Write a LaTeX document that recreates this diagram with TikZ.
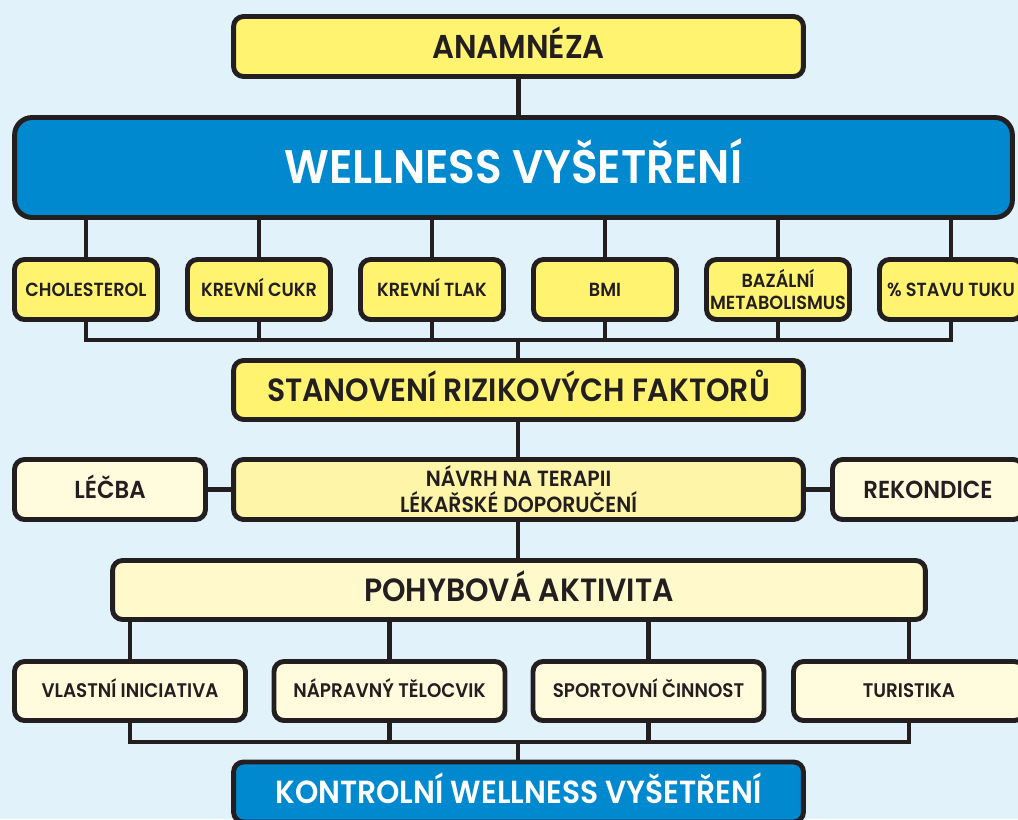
\documentclass[tikz,border=0pt]{standalone}
\usepackage{fontspec}
\setmainfont{Poppins}[FakeStretch=0.93, BoldFont={Poppins SemiBold}]
\definecolor{bg}{HTML}{E1F2FA}
\definecolor{ylw}{HTML}{FFF36F}
\definecolor{blu}{HTML}{0089CF}
\definecolor{crm}{HTML}{FFFBDC}
\definecolor{pal}{HTML}{FFF5A8}
\definecolor{pohc}{HTML}{FFF9CC}
\definecolor{ink}{HTML}{231F20}
\tikzset{
  base/.style={draw=ink, line width=2.8pt, rounded corners=0.2cm, inner sep=0pt, text=ink},
  fs/.style={font=\bfseries\fontsize{#1}{#1}\selectfont, text height=0.70*#1pt, text depth=0pt},
  two/.style 2 args={align=center, font=\bfseries\fontsize{#1}{#2}\selectfont},
  ybox/.style={base, fill=ylw},
  bbox/.style={base, fill=blu, text=white, rounded corners=0.35cm},
  cbox/.style={base, fill=crm},
  wire/.style={draw=ink, line width=2.5pt},
}
\begin{document}
\begin{tikzpicture}[x=0.02cm,y=-0.02cm]
\path[fill=bg] (0,0) rectangle (1018,819);
\useasboundingbox (0,0) rectangle (1018,819);
% top
\node[ybox, minimum width=11.4cm, minimum height=1.2cm, fs=18.8] (ana) at (518.5,46.5) {ANAMNÉZA};
\node[bbox, minimum width=19.96cm, minimum height=2.0cm, fs=26.8] (wel) at (513.5,167.5) {WELLNESS VYŠETŘENÍ};
% row 1
\begin{scope}[every node/.style={ybox, minimum width=2.86cm, minimum height=1.2cm, fs=10.8}]
\node (r1) at (86,289.5) {CHOLESTEROL};
\node (r2) at (259,289.5) {KREVNÍ CUKR};
\node (r3) at (432,289.5) {KREVNÍ TLAK};
\node (r4) at (605,289.5) {BMI};
\node[two={10.8}{12.6}, text height=, text depth=] (r5) at (778,289.5) {BAZÁLNÍ\\METABOLISMUS};
\node (r6) at (951,289.5) {\% STAVU TUKU};
\end{scope}
\node[ybox, minimum width=11.4cm, minimum height=1.18cm, fs=18.3] (stan) at (518.5,390) {STANOVENÍ RIZIKOVÝCH FAKTORŮ};
% row 2
\node[cbox, minimum width=3.82cm, minimum height=1.2cm, fs=14] (lec) at (110,489.5) {LÉČBA};
\node[base, two={12.5}{14.8}, fill=pal, minimum width=11.4cm, minimum height=1.2cm] (nav) at (518.5,489.5) {NÁVRH NA TERAPII\\LÉKAŘSKÉ DOPORUČENÍ};
\node[cbox, minimum width=3.82cm, minimum height=1.2cm, fs=14] (rek) at (928,489.5) {REKONDICE};
\node[base, fill=pohc, minimum width=16.26cm, minimum height=1.18cm, fs=18.3] (poh) at (519,590) {POHYBOVÁ AKTIVITA};
% row 3
\begin{scope}[every node/.style={cbox, minimum width=4.62cm, minimum height=1.18cm, fs=11.2}]
\node (s1) at (130,691) {VLASTNÍ INICIATIVA};
\node (s2) at (389.5,691) {NÁPRAVNÝ TĚLOCVIK};
\node (s3) at (648.5,691) {SPORTOVNÍ ČINNOST};
\node (s4) at (909,691) {TURISTIKA};
\end{scope}
\node[bbox, rounded corners=0.2cm, minimum width=11.4cm, minimum height=1.2cm, fs=18.2] (kon) at (518.5,792) {KONTROLNÍ WELLNESS VYŠETŘENÍ};
% connectors
\coordinate (b1) at (518,340);
\coordinate (b2) at (518,742);
\draw[wire] (ana.south) -- (wel.north -| ana.south);
\foreach \i in {r1,r2,r3,r4,r5,r6}{
  \draw[wire] (wel.south -| \i.north) -- (\i.north);
}
\draw[wire] (r1.south) |- (b1) -| (r6.south);
\foreach \i in {r2,r3,r4,r5}{ \draw[wire] (\i.south) -- (\i.south |- b1); }
\draw[wire] (b1) -- (stan.north -| b1);
\draw[wire] (stan.south -| b1) -- (nav.north -| b1);
\draw[wire] (lec.east) -- (nav.west);
\draw[wire] (nav.east) -- (rek.west);
\draw[wire] (nav.south -| b1) -- (poh.north -| b1);
\foreach \i in {s1,s2,s3,s4}{
  \draw[wire] (poh.south -| \i.north) -- (\i.north);
}
\draw[wire] (s1.south) |- (b2) -| (s4.south);
\foreach \i in {s2,s3}{ \draw[wire] (\i.south) -- (\i.south |- b2); }
\draw[wire] (b2) -- (kon.north -| b2);
\end{tikzpicture}
\end{document}
